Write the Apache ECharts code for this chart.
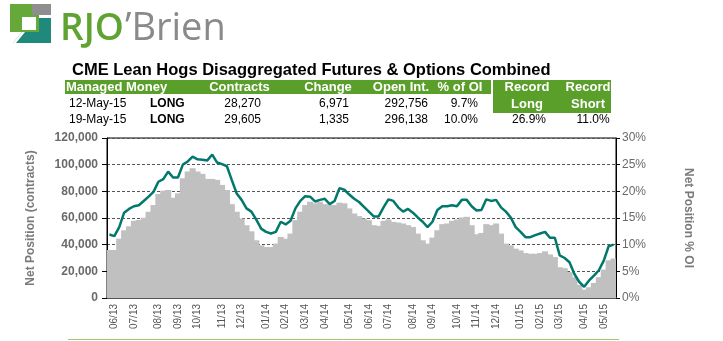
<!DOCTYPE html>
<html>
<head>
<meta charset="utf-8">
<script src="https://cdn.jsdelivr.net/npm/echarts@6/dist/echarts.min.js"></script>
<style>
html,body{margin:0;padding:0;background:#fff;}
#chart{width:723px;height:341px;}
</style>
</head>
<body>
<div id="chart"></div>
<script>
// ---- data ----
const weeks = [
'2013-05-28','2013-06-04','2013-06-11','2013-06-18','2013-06-25','2013-07-02','2013-07-09','2013-07-16','2013-07-23','2013-07-30',
'2013-08-06','2013-08-13','2013-08-20','2013-08-27','2013-09-03','2013-09-10','2013-09-17','2013-09-24','2013-10-01','2013-10-08',
'2013-10-15','2013-10-22','2013-10-29','2013-11-05','2013-11-12','2013-11-19','2013-11-26','2013-12-03','2013-12-10','2013-12-17',
'2013-12-24','2013-12-31','2014-01-07','2014-01-14','2014-01-21','2014-01-28','2014-02-04','2014-02-11','2014-02-18','2014-02-25',
'2014-03-04','2014-03-11','2014-03-18','2014-03-25','2014-04-01','2014-04-08','2014-04-15','2014-04-22','2014-04-29','2014-05-06',
'2014-05-13','2014-05-20','2014-05-27','2014-06-03','2014-06-10','2014-06-17','2014-06-24','2014-07-01','2014-07-08','2014-07-15',
'2014-07-22','2014-07-29','2014-08-05','2014-08-12','2014-08-19','2014-08-26','2014-09-02','2014-09-09','2014-09-16','2014-09-23',
'2014-09-30','2014-10-07','2014-10-14','2014-10-21','2014-10-28','2014-11-04','2014-11-11','2014-11-18','2014-11-25','2014-12-02',
'2014-12-09','2014-12-16','2014-12-23','2014-12-30','2015-01-06','2015-01-13','2015-01-20','2015-01-27','2015-02-03','2015-02-10',
'2015-02-17','2015-02-24','2015-03-03','2015-03-10','2015-03-17','2015-03-24','2015-03-31','2015-04-07','2015-04-14','2015-04-21',
'2015-04-28','2015-05-05','2015-05-12','2015-05-19'];

const netPosition = [
36000,36000,44500,50800,53800,57900,58500,60200,64700,69700,
78000,80500,81000,75200,78500,89800,94900,97400,94900,93100,
89300,89300,88600,84800,81000,70400,64700,59600,54600,50000,
43300,39500,38200,38200,40800,45800,44500,48300,58400,64700,
69700,72200,71000,72200,70400,69700,69700,71500,71000,67200,
63400,61400,59600,58400,54600,54100,57900,58900,57100,56600,
55900,54600,53300,48300,43300,40800,45300,50800,55400,55900,
57900,58900,60400,60900,54600,47800,48800,55400,54600,55900,
48300,40800,39500,37000,35700,33700,33200,33200,33700,35000,
32700,30700,23100,22400,19400,15600,9800,6300,8100,11300,
15600,21299,28270,29605];

const pctOI = [
11.9,11.6,13.3,16.0,16.7,17.2,17.4,18.2,19.0,19.9,
21.8,22.3,23.7,22.6,22.6,25.0,25.6,26.5,26.0,25.9,
25.8,26.9,25.4,25.1,24.7,22.1,19.6,18.4,16.8,16.2,
14.7,13.0,12.4,12.1,12.4,14.3,13.8,14.5,16.8,18.2,
19.1,19.0,18.1,18.4,18.6,17.6,18.2,20.6,20.3,19.4,
18.6,18.0,17.1,16.2,15.3,15.3,17.0,18.5,18.2,17.0,
16.2,16.7,16.0,15.1,14.3,13.3,14.3,16.5,17.2,17.2,
17.4,17.2,18.4,18.4,17.2,16.4,16.5,18.5,18.2,18.4,
17.0,16.2,15.1,13.3,12.4,11.4,11.4,11.8,12.1,12.4,
11.3,11.3,8.0,7.5,6.7,4.5,3.0,2.1,3.3,4.2,
5.2,7.0,9.7,10.0];

const leftTicks = [0, 20000, 40000, 60000, 80000, 100000, 120000];
const rightTicks = [0, 5, 10, 15, 20, 25, 30];

const titleText = 'CME Lean Hogs Disaggregated Futures & Options Combined';
const headerLabels = ['Managed Money', 'Contracts', 'Change', 'Open Int.', '% of OI'];
const recordHeaders = [['Record', 'Long'], ['Record', 'Short']];
const rowDates = ['12-May-15', '19-May-15'];
const rowSide = ['LONG', 'LONG'];
const rowContracts = ['28,270', '29,605'];
const rowChange = ['6,971', '1,335'];
const rowOpenInt = ['292,756', '296,138'];
const rowPctOI = ['9.7%', '10.0%'];
const recordValues = ['26.9%', '11.0%'];

// ---- chart ----
const FONT = 'Arial, "Liberation Sans", sans-serif';
const GREEN = '#5B9F2B';
const chart = echarts.init(document.getElementById('chart'), null, {renderer: 'canvas'});

function txt(x, y, text, opts) {
  opts = opts || {};
  return {
    type: 'text', x: x, y: y, z: 10,
    style: {
      text: text,
      fill: opts.fill || '#000',
      font: (opts.weight || 'normal') + ' ' + (opts.size || 12) + 'px ' + (opts.family || FONT),
      align: opts.align || 'left',
      verticalAlign: 'middle'
    }
  };
}

const graphics = [];
// logo icon
graphics.push({type: 'rect', shape: {x: 10, y: 4, width: 29, height: 28}, style: {fill: '#66A83A'}});
graphics.push({type: 'rect', shape: {x: 32, y: 4, width: 19, height: 11}, style: {fill: '#8E8E8E'}});
graphics.push({type: 'polygon', shape: {points: [[39, 18], [51, 18], [51, 43], [13, 43], [22, 32], [39, 32]]}, style: {fill: '#1F8A7C'}});
graphics.push({type: 'polygon', shape: {points: [[13, 43], [22, 32], [25, 32], [16, 43]]}, style: {fill: '#ffffff'}});
graphics.push({type: 'rect', shape: {x: 22, y: 17, width: 14, height: 13}, style: {fill: '#ffffff'}});
graphics.push(txt(60, 29, 'RJO', {fill: '#5FA431', size: 37, weight: '600', family: '"Open Sans", sans-serif'}));
graphics.push(txt(125, 29, '\u2019Brien', {fill: '#8A8A8A', size: 38, family: '"Open Sans", sans-serif'}));

// title
graphics.push(txt(72, 70, titleText, {weight: 'bold', size: 16.5}));

// table header band
graphics.push({type: 'rect', shape: {x: 65, y: 80, width: 426, height: 14}, style: {fill: GREEN}});
graphics.push({type: 'rect', shape: {x: 493, y: 80, width: 118, height: 33}, style: {fill: GREEN}});
const headerX = [66, 239.5, 328, 401, 460];
headerLabels.forEach(function (h, i) {
  graphics.push(txt(headerX[i], 87, h, {fill: '#fff', weight: 'bold', size: 13, align: i === 0 ? 'left' : 'center'}));
});
const recX = [527, 588];
recordHeaders.forEach(function (r, i) {
  graphics.push(txt(recX[i], 87, r[0], {fill: '#fff', weight: 'bold', size: 13, align: 'center'}));
  graphics.push(txt(recX[i], 104, r[1], {fill: '#fff', weight: 'bold', size: 13, align: 'center'}));
});
const rowY = [104, 120];
for (let r = 0; r < 2; r++) {
  const y = rowY[r];
  graphics.push(txt(69, y, rowDates[r]));
  graphics.push(txt(150, y, rowSide[r], {weight: 'bold'}));
  graphics.push(txt(261, y, rowContracts[r], {align: 'right'}));
  graphics.push(txt(349, y, rowChange[r], {align: 'right'}));
  graphics.push(txt(428, y, rowOpenInt[r], {align: 'right'}));
  graphics.push(txt(478, y, rowPctOI[r], {align: 'right'}));
}
graphics.push(txt(529, rowY[1], recordValues[0], {align: 'center'}));
graphics.push(txt(593, rowY[1], recordValues[1], {align: 'center'}));

// bottom green rule
graphics.push({type: 'line', shape: {x1: 68, y1: 339.5, x2: 619, y2: 339.5}, style: {stroke: '#9CCB74', lineWidth: 1}});

const option = {
  animation: false,
  backgroundColor: '#fff',
  textStyle: {fontFamily: FONT},
  grid: {left: 107, right: 107, top: 138, bottom: 43, show: true, borderColor: '#000', borderWidth: 1, backgroundColor: '#fff'},
  xAxis: {
    type: 'category',
    data: weeks,
    boundaryGap: true,
    axisLine: {lineStyle: {color: '#555', width: 2}},
    axisTick: {show: false},
    axisLabel: {
      rotate: 90,
      fontSize: 10,
      color: '#555',
      margin: 6,
      interval: function (index, value) { return Number(value.slice(8, 10)) <= 7; },
      formatter: function (v) { return v.slice(5, 7) + '/' + v.slice(2, 4); }
    },
    splitLine: {show: false}
  },
  yAxis: [
    {
      type: 'value', position: 'left', min: leftTicks[0], max: leftTicks[leftTicks.length - 1], interval: leftTicks[1] - leftTicks[0],
      name: 'Net Position (contracts)', nameLocation: 'middle', nameGap: 70, nameRotate: 90,
      nameTextStyle: {color: '#7a7a7a', fontWeight: 'bold', fontSize: 12},
      axisLine: {show: true, lineStyle: {color: '#000', width: 1}},
      axisTick: {show: true, length: 5, lineStyle: {color: '#000'}},
      axisLabel: {color: '#6a6a6a', fontWeight: 'bold', fontSize: 12, margin: 9,
        formatter: function (v) { return v.toLocaleString('en-US'); }},
      splitLine: {show: true, lineStyle: {color: '#555', type: [3, 2], width: 1}}
    },
    {
      type: 'value', position: 'right', min: rightTicks[0], max: rightTicks[rightTicks.length - 1], interval: rightTicks[1] - rightTicks[0],
      name: 'Net Position % OI', nameLocation: 'middle', nameGap: 66, nameRotate: -90,
      nameTextStyle: {color: '#7a7a7a', fontWeight: 'bold', fontSize: 12},
      axisLine: {show: true, lineStyle: {color: '#000', width: 1}},
      axisTick: {show: true, length: 4, lineStyle: {color: '#000'}},
      axisLabel: {color: '#6a6a6a', fontSize: 12, margin: 6, formatter: '{value}%'},
      splitLine: {show: false}
    }
  ],
  series: [
    {
      type: 'bar', yAxisIndex: 0, data: netPosition,
      barWidth: '125%',
      itemStyle: {color: '#C0C0C0'},
      clip: true,
      silent: true
    },
    {
      type: 'line', yAxisIndex: 1, data: pctOI,
      symbol: 'none',
      lineStyle: {color: '#00786C', width: 2.5},
      z: 5,
      silent: true
    }
  ],
  graphic: graphics
};
chart.setOption(option);
</script>
</body>
</html>
